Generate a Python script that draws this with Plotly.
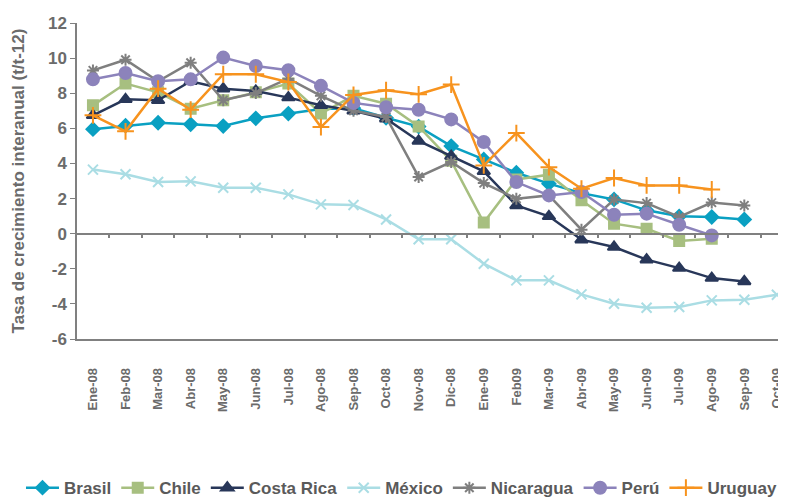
import plotly.graph_objects as go

months = ["Ene-08", "Feb-08", "Mar-08", "Abr-08", "May-08", "Jun-08", "Jul-08",
          "Ago-08", "Sep-08", "Oct-08", "Nov-08", "Dic-08", "Ene-09", "Feb09",
          "Mar-09", "Abr-09", "May-09", "Jun-09", "Jul-09", "Ago-09", "Sep-09", "Oct-09"]

brasil = [5.95, 6.15, 6.32, 6.23, 6.13, 6.57, 6.84, 7.1, 7.15, 6.6, 6.1, 4.99,
          4.23, 3.47, 2.85, 2.31, 1.95, 1.33, 0.99, 0.95, 0.81, None]
chile = [7.31, 8.55, 8.05, 7.12, 7.6, 8.05, 8.55, 6.85, 7.85, 7.4, 6.11, 4.15,
         0.63, 3.09, 3.36, 1.9, 0.57, 0.28, -0.42, -0.29, None, None]
costa_rica = [6.74, 7.65, 7.6, 8.68, 8.26, 8.13, 7.75, 7.31, 7.0, 6.55, 5.28, 4.42,
              3.55, 1.61, 0.99, -0.34, -0.76, -1.48, -1.96, -2.53, -2.72, None]
mexico = [3.65, 3.38, 2.94, 2.98, 2.62, 2.62, 2.24, 1.67, 1.63, 0.81, -0.32, -0.32,
          -1.71, -2.66, -2.66, -3.46, -3.99, -4.22, -4.18, -3.8, -3.76, -3.48]
nicaragua = [9.3, 9.91, 8.68, 9.74, 7.6, 8.01, 8.83, 7.85, 7.0, 6.65, 3.23, 4.08,
             2.88, 1.99, 2.18, 0.23, 1.94, 1.74, 0.95, 1.77, 1.61, None]
peru = [8.79, 9.15, 8.68, 8.79, 10.03, 9.55, 9.31, 8.42, 7.45, 7.2, 7.06, 6.51,
        5.22, 2.94, 2.18, 2.37, 1.08, 1.14, 0.51, -0.1, None, None]
uruguay = [6.74, 5.83, 8.26, 7.06, 9.08, 9.08, 8.64, 6.07, 7.9, 8.17, 7.94, 8.49,
           3.89, 5.73, 3.79, 2.56, 3.17, 2.75, 2.75, 2.52, None, None]

y_ticks = [-6, -4, -2, 0, 2, 4, 6, 8, 10, 12]
y_tick_labels = ["-6", "-4", "-2", "0", "2", "4", "6", "8", "10", "12"]

series = [
    ("Brasil", brasil, "#0aa0c2", "diamond", 10),
    ("Chile", chile, "#a7bf80", "square", 10),
    ("Costa Rica", costa_rica, "#283759", "triangle-up", 11),
    ("México", mexico, "#aadde4", "x-thin-open", 10),
    ("Nicaragua", nicaragua, "#7f7f7f", "asterisk-open", 10),
    ("Perú", peru, "#8c83bb", "circle", 12),
    ("Uruguay", uruguay, "#f7931e", "cross-thin-open", 12),
]

xs = list(range(len(months)))
fig = go.Figure()
for name, vals, color, sym, size in series:
    fig.add_trace(go.Scatter(
        x=xs, y=vals, name=name, mode="lines+markers",
        line=dict(color=color, width=2.5),
        marker=dict(symbol=sym, size=size, color=color,
                    line=dict(color=color, width=2)),
        cliponaxis=False,
    ))

axis_grey = "#808080"
label_grey = "#6b6b6b"
fig.update_layout(
    width=778, height=491,
    margin=dict(l=69, r=0, t=15, b=160, autoexpand=False),
    paper_bgcolor="white", plot_bgcolor="white",
    font=dict(family="Liberation Sans, Arial, sans-serif", color=label_grey),
    showlegend=True,
    legend=dict(orientation="h", x=-0.079, xanchor="left", y=-0.415, yanchor="top",
                font=dict(family="Liberation Sans, Arial, sans-serif",
                          size=17, color="#5a5a5a", weight="bold"),
                itemwidth=33, tracegroupgap=0, bgcolor="rgba(0,0,0,0)"),
    xaxis=dict(
        range=[-0.49, 21.28], tickvals=xs, ticktext=months, tickangle=-90,
        showline=True, linecolor=axis_grey, linewidth=1.5, ticks="",
        showgrid=False, zeroline=False, ticklabelstandoff=22, automargin=False,
        tickfont=dict(family="Liberation Sans, Arial, sans-serif",
                      size=13, color=label_grey, weight="bold"),
    ),
    xaxis2=dict(
        overlaying="x", anchor="free", position=1/3, matches="x",
        range=[-0.49, 21.28], tickvals=[i - 0.5 for i in range(len(months) + 1)],
        showticklabels=False, showline=True, linecolor=axis_grey, linewidth=1.5,
        ticks="outside", ticklen=4, tickcolor=axis_grey, tickwidth=1.5,
        showgrid=False, zeroline=False, automargin=False,
    ),
    yaxis=dict(
        range=[-6, 12], tickvals=y_ticks, ticktext=y_tick_labels, showline=True,
        linecolor=axis_grey, automargin=False,
        linewidth=1.5, ticks="outside", ticklen=5, tickcolor=axis_grey,
        showgrid=False, zeroline=False,
        tickfont=dict(size=17, color=label_grey, weight="bold"),
        title=dict(text="Tasa de crecimiento interanual (t/t-12)", standoff=19,
                   font=dict(size=17, color=label_grey, weight="bold")),
    ),
)
fig.add_trace(go.Scatter(x=[0], y=[None], xaxis="x2", showlegend=False,
                         hoverinfo="skip"))

fig.write_html("out.html")
